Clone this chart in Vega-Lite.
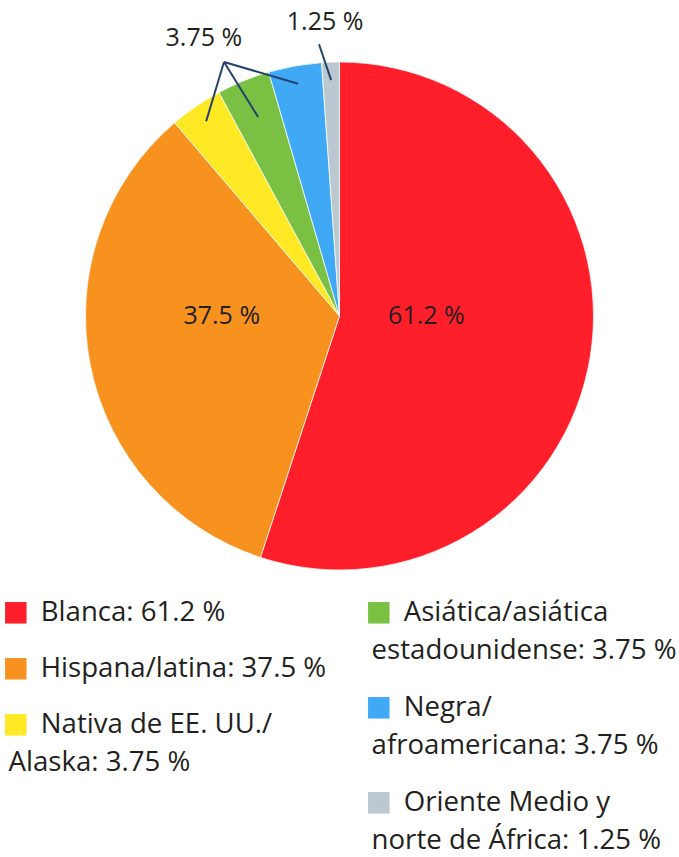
{
  "$schema": "https://vega.github.io/schema/vega-lite/v6.json",
  "width": 679,
  "height": 632,
  "autosize": {"type": "none"},
  "padding": {"left": 0, "top": 0, "right": 0, "bottom": 225},
  "background": "white",
  "config": {
    "view": {"stroke": null},
    "font": "Open Sans",
    "style": {"guide-label": {"lineHeight": 38}}
  },
  "data": {
    "values": [
      {"cat": "Blanca", "label": "Blanca: 61.2 %", "pct": "61.2 %", "value": 61.2, "order": 1},
      {"cat": "Hispana/latina", "label": "Hispana/latina: 37.5 %", "pct": "37.5 %", "value": 37.5, "order": 2},
      {"cat": "Nativa de EE. UU./Alaska", "label": "Nativa de EE. UU./|Alaska: 3.75 %", "pct": "3.75 %", "value": 3.75, "order": 3},
      {"cat": "Asiática/asiática estadounidense", "label": "Asiática/asiática|estadounidense: 3.75 %", "pct": "3.75 %", "value": 3.75, "order": 4},
      {"cat": "Negra/afroamericana", "label": "Negra/|afroamericana: 3.75 %", "pct": "3.75 %", "value": 3.75, "order": 5},
      {"cat": "Oriente Medio y norte de África", "label": "Oriente Medio y|norte de África: 1.25 %", "pct": "1.25 %", "value": 1.25, "order": 6}
    ]
  },
  "layer": [
    {
      "mark": {"type": "arc", "outerRadius": 254, "stroke": "#ffffff", "strokeWidth": 0.75},
      "encoding": {
        "theta": {"field": "value", "type": "quantitative", "stack": true},
        "order": {"field": "order", "type": "quantitative"},
        "color": {
          "field": "label", "type": "nominal",
          "scale": {
            "domain": ["Blanca: 61.2 %", "Hispana/latina: 37.5 %", "Nativa de EE. UU./|Alaska: 3.75 %", "Asiática/asiática|estadounidense: 3.75 %", "Negra/|afroamericana: 3.75 %", "Oriente Medio y|norte de África: 1.25 %"],
            "range": ["#ff1f2a", "#f7921e", "#ffe925", "#7ac143", "#3fa9f5", "#bcc8d1"]
          },
          "legend": {
            "orient": "none", "legendX": 2, "legendY": 599, "title": null,
            "values": ["Blanca: 61.2 %", "Hispana/latina: 37.5 %", "Nativa de EE. UU./|Alaska: 3.75 %"],
            "symbolType": "square", "symbolSize": 462, "symbolStrokeWidth": 0,
            "labelFont": "Open Sans", "labelFontSize": 27.6, "labelColor": "#231f20",
            "labelLimit": 600, "labelOffset": -21, "rowPadding": 27, "padding": 0,
            "labelExpr": "split('\u200b\u2003\u2009' + datum.label, '|')"
          }
        }
      }
    },
    {
      "mark": {"type": "arc", "outerRadius": 254, "stroke": "#ffffff", "strokeWidth": 0.75},
      "encoding": {
        "theta": {"field": "value", "type": "quantitative", "stack": true},
        "order": {"field": "order", "type": "quantitative"},
        "color": {
          "field": "label", "type": "nominal",
          "scale": {
            "domain": ["Blanca: 61.2 %", "Hispana/latina: 37.5 %", "Nativa de EE. UU./|Alaska: 3.75 %", "Asiática/asiática|estadounidense: 3.75 %", "Negra/|afroamericana: 3.75 %", "Oriente Medio y|norte de África: 1.25 %"],
            "range": ["#ff1f2a", "#f7921e", "#ffe925", "#7ac143", "#3fa9f5", "#bcc8d1"]
          },
          "legend": {
            "orient": "none", "legendX": 365, "legendY": 599, "title": null,
            "values": ["Asiática/asiática|estadounidense: 3.75 %", "Negra/|afroamericana: 3.75 %", "Oriente Medio y|norte de África: 1.25 %"],
            "symbolType": "square", "symbolSize": 462, "symbolStrokeWidth": 0,
            "labelFont": "Open Sans", "labelFontSize": 27.6, "labelColor": "#231f20",
            "labelLimit": 600, "labelOffset": -21, "rowPadding": 28, "padding": 0,
            "labelExpr": "split('\u200b\u2003\u2009' + datum.label, '|')"
          }
        }
      }
    },
    {
      "transform": [
        {"window": [{"op": "sum", "field": "value", "as": "cum"}], "sort": [{"field": "order"}], "frame": [null, 0]},
        {"joinaggregate": [{"op": "sum", "field": "value", "as": "total"}]},
        {"filter": "datum.order >= 3"},
        {"calculate": "(datum.cum - datum.value / 2) / datum.total * 2 * PI", "as": "mid"},
        {"calculate": "datum.order == 4 ? 215 : 236", "as": "rin"},
        {"calculate": "datum.rin * sin(datum.mid)", "as": "xa"},
        {"calculate": "datum.rin * cos(datum.mid)", "as": "ya"},
        {"calculate": "datum.order == 6 ? -20.5 : -115.5", "as": "xb"},
        {"calculate": "datum.order == 6 ? 271.7 : 254", "as": "yb"}
      ],
      "mark": {"type": "rule", "color": "#24426b", "strokeWidth": 2},
      "encoding": {
        "x": {"field": "xa", "type": "quantitative", "scale": {"domain": [-339.5, 339.5], "nice": false, "zero": false}, "axis": null},
        "y": {"field": "ya", "type": "quantitative", "scale": {"domain": [-316, 316], "nice": false, "zero": false}, "axis": null},
        "x2": {"field": "xb"},
        "y2": {"field": "yb"}
      }
    },
    {
      "mark": {"type": "text", "radius": 88, "dy": -14, "fontSize": 25, "font": "Open Sans", "color": "#231f20"},
      "encoding": {
        "theta": {"field": "value", "type": "quantitative", "stack": true},
        "order": {"field": "order", "type": "quantitative"},
        "text": {"condition": {"test": "datum.cat === 'Blanca'", "field": "pct"}, "value": ""}
      }
    },
    {
      "mark": {"type": "text", "radius": 120, "dy": -23, "fontSize": 25, "font": "Open Sans", "color": "#231f20"},
      "encoding": {
        "theta": {"field": "value", "type": "quantitative", "stack": true},
        "order": {"field": "order", "type": "quantitative"},
        "text": {"condition": {"test": "datum.cat === 'Hispana/latina'", "field": "pct"}, "value": ""}
      }
    },
    {
      "mark": {"type": "text", "radius": 300, "dx": -22, "fontSize": 25, "font": "Open Sans", "color": "#231f20"},
      "encoding": {
        "theta": {"field": "value", "type": "quantitative", "stack": true},
        "order": {"field": "order", "type": "quantitative"},
        "text": {"condition": {"test": "datum.cat === 'Asiática/asiática estadounidense'", "field": "pct"}, "value": ""}
      }
    },
    {
      "mark": {"type": "text", "radius": 294, "dx": -4, "fontSize": 25, "font": "Open Sans", "color": "#231f20"},
      "encoding": {
        "theta": {"field": "value", "type": "quantitative", "stack": true},
        "order": {"field": "order", "type": "quantitative"},
        "text": {"condition": {"test": "datum.cat === 'Oriente Medio y norte de África'", "field": "pct"}, "value": ""}
      }
    }
  ],
  "resolve": {"scale": {"color": "independent"}, "legend": {"color": "independent"}}
}
